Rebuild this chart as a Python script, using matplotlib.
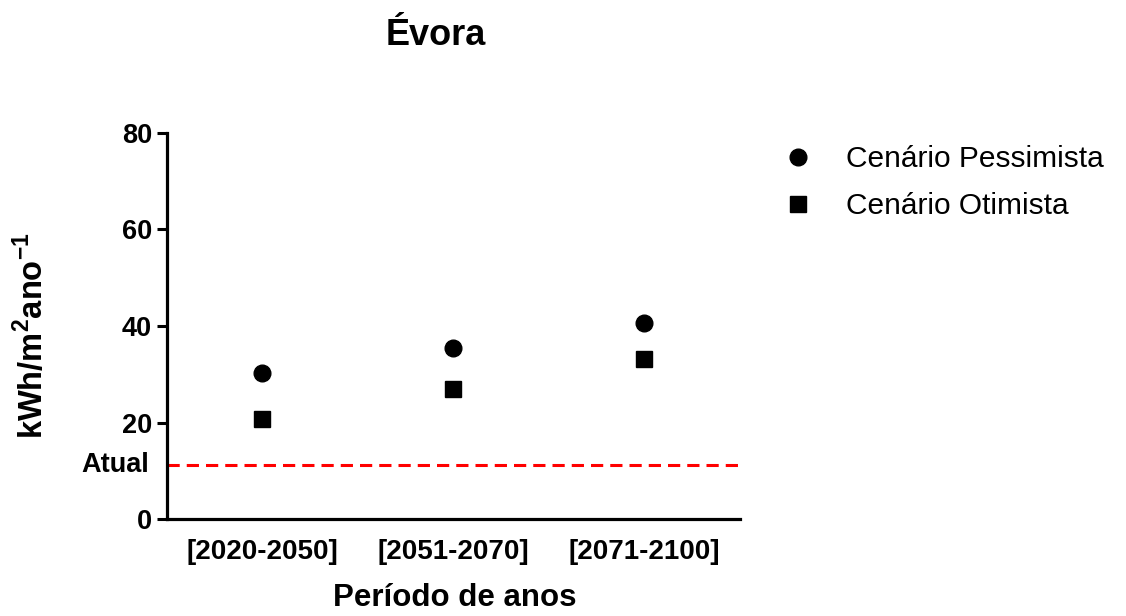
import matplotlib
matplotlib.use('Agg')
import matplotlib.pyplot as plt
import matplotlib.transforms as mtransforms

plt.rcParams['font.family'] = ['Liberation Sans', 'DejaVu Sans']
plt.rcParams['mathtext.fontset'] = 'custom'
plt.rcParams['mathtext.rm'] = 'Liberation Sans:bold'
plt.rcParams['mathtext.bf'] = 'Liberation Sans:bold'

# data
periodos = ['[2020-2050]', '[2051-2070]', '[2071-2100]']
pessimista = [30.2, 35.4, 40.7]
otimista = [20.7, 26.9, 33.1]
atual = 11.2

fig = plt.figure(figsize=(11.26, 6.16), dpi=100)
ax = fig.add_axes([166.7/1126, 96.7/616, (740-166.7)/1126, (519.3-132.7)/616])

x = list(range(len(periodos)))
ax.plot(x, pessimista, 'o', color='black', markersize=12, label='Cenário Pessimista')
ax.plot(x, otimista, 's', color='black', markersize=12, label='Cenário Otimista')
ax.axhline(atual, color='#ff0000', lw=2.2, linestyle=(0, (4, 2.3)))

ax.set_xlim(-0.5, 2.5)
ax.set_ylim(0, 80)
ax.set_yticks([0, 20, 40, 60, 80])
ax.set_xticks(x)
ax.set_xticklabels(periodos, fontsize=20, fontweight='bold')
for lab in ax.get_yticklabels():
    lab.set_fontsize(19.5)
    lab.set_fontweight('bold')
ax.tick_params(axis='y', length=7.5, width=2.2, pad=3)
ax.tick_params(axis='x', length=0, pad=14)

trans = mtransforms.blended_transform_factory(ax.transAxes, ax.transData)
ax.text(-0.0303, atual, 'Atual', transform=trans, ha='right', va='center',
        fontsize=19.5, fontweight='bold')

for s in ['top', 'right']:
    ax.spines[s].set_visible(False)
for s in ['left', 'bottom']:
    ax.spines[s].set_linewidth(2.3)
ax.spines['left'].set_capstyle('projecting')

fig.text(436/1126, 1 - 45/616, 'Évora', ha='center', va='baseline',
         fontsize=26, fontweight='bold')
fig.text(455/1126, 1 - 606/616, 'Período de anos', ha='center', va='baseline',
         fontsize=22.5, fontweight='bold')
fig.text(50/1126, 1 - 336/616, r'kWh/m$^{2}$ano$^{-1}$', ha='right', va='center',
         rotation=90, fontsize=23.5, fontweight='bold')

fig.legend(loc='upper left', bbox_to_anchor=(780/1126, 1 - 145/616), frameon=False,
           fontsize=21.5, handlelength=1.2, handletextpad=1.0, labelspacing=0.65,
           borderaxespad=0, borderpad=0)

fig.savefig('out.png', dpi=100)
